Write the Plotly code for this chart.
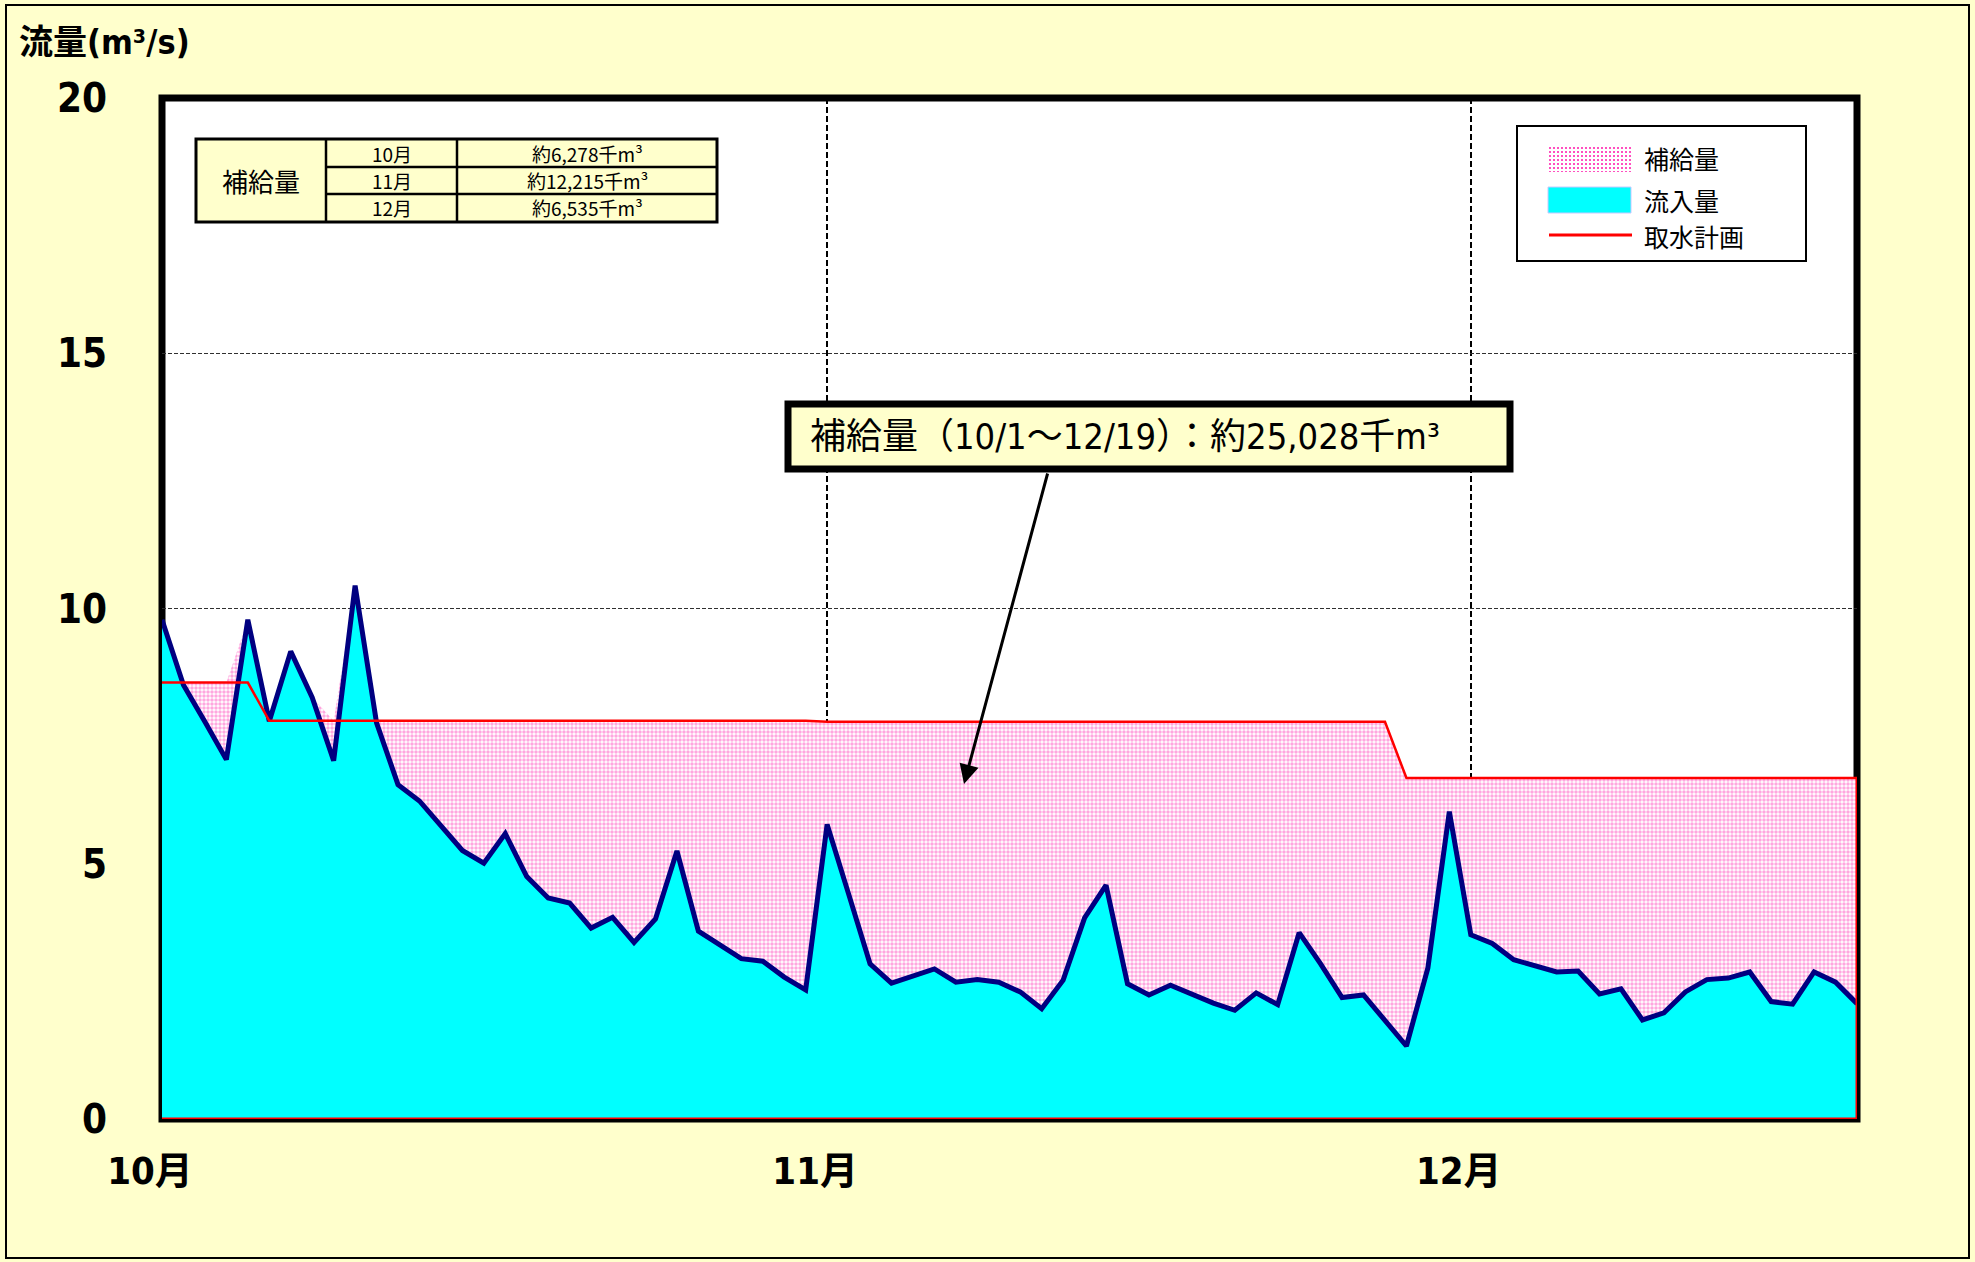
import base64
import pandas as pd
import plotly.graph_objects as go

# ---------------- data (m3/s, daily, 10/1 .. 12/19) ----------------
inflow = [9.78, 8.50, 7.78, 7.04, 9.78, 7.79, 9.16, 8.26, 7.02, 10.45,
          7.76, 6.55, 6.23, 5.74, 5.26, 5.01, 5.59, 4.75, 4.33, 4.23,
          3.74, 3.95, 3.46, 3.92, 5.25, 3.68, 3.40, 3.14, 3.09, 2.78,
          2.53, 5.77, 4.41, 3.04, 2.66, 2.81, 2.94, 2.68, 2.73, 2.68,
          2.49, 2.16, 2.72, 3.94, 4.58, 2.65, 2.43, 2.62, 2.44, 2.27,
          2.13, 2.47, 2.24, 3.65, 3.04, 2.38, 2.43, 1.93, 1.43, 2.96,
          6.02, 3.61, 3.44, 3.12, 3.01, 2.88, 2.90, 2.45, 2.55, 1.94,
          2.08, 2.49, 2.73, 2.76, 2.88, 2.30, 2.25, 2.88, 2.68, 2.26]

plan = [8.55, 8.55, 8.55, 8.55, 8.55, 7.80, 7.80, 7.80, 7.80, 7.80,
        7.80, 7.80, 7.80, 7.80, 7.80, 7.80, 7.80, 7.80, 7.80, 7.80,
        7.80, 7.80, 7.80, 7.80, 7.80, 7.80, 7.80, 7.80, 7.80, 7.80,
        7.80, 7.78, 7.78, 7.78, 7.78, 7.78, 7.78, 7.78, 7.78, 7.78,
        7.78, 7.78, 7.78, 7.78, 7.78, 7.78, 7.78, 7.78, 7.78, 7.78,
        7.78, 7.78, 7.78, 7.78, 7.78, 7.78, 7.78, 7.78, 6.68, 6.68,
        6.68, 6.68, 6.68, 6.68, 6.68, 6.68, 6.68, 6.68, 6.68, 6.68,
        6.68, 6.68, 6.68, 6.68, 6.68, 6.68, 6.68, 6.68, 6.68, 6.68]

start_date = "2023-10-01"
month_ticks = ["2023-10-01", "2023-11-01", "2023-12-01"]
month_labels = ["10月", "11月", "12月"]
y_ticks = [0, 5, 10, 15, 20]

series_names = ["補給量", "流入量", "取水計画"]
table_header = "補給量"
table_months = ["10月", "11月", "12月"]
table_values = ["約6,278千m³", "約12,215千m³", "約6,535千m³"]
total_text = "補給量（10/1～12/19）：約25,028千m³"
y_title = "流量(m³/s)"

# ---------------- derived ----------------
dates = pd.date_range(start_date, periods=len(inflow))
supply_top = [max(p, q) for p, q in zip(plan, inflow)]

# ---------------- geometry helpers (pixels -> paper) ----------------
W, H = 1975, 1262
L, R, T, B = 162, 1857, 98, 1119


def fx(x):
    return (x - L) / (R - L)


def fy(y):
    return (B - y) / (B - T)


NARROW = "Liberation Sans Narrow, Arial Narrow, DejaVu Sans Condensed, Noto Sans CJK JP, sans-serif"
CJK = "Noto Sans CJK JP, sans-serif"
PINK = "#FF4FC0"
CYAN = "#00FFFF"
NAVY = "#000080"
RED = "#FF0000"
PAPER = "#FFFFCC"

fig = go.Figure()

fig.add_trace(go.Scatter(
    x=dates, y=supply_top, name=series_names[0], mode="lines",
    line=dict(width=0, color=PINK), fill="tozeroy",
    fillpattern=dict(shape=".", fgcolor=PINK, bgcolor="white", size=4, solidity=0.6),
    showlegend=False, hoverinfo="skip"))

fig.add_trace(go.Scatter(
    x=dates, y=inflow, name=series_names[1], mode="lines",
    line=dict(width=5, color=NAVY), fill="tozeroy", fillcolor=CYAN,
    showlegend=False))

fig.add_trace(go.Scatter(
    x=dates, y=plan, name=series_names[2], mode="lines",
    line=dict(width=2.5, color=RED), showlegend=False))

shapes = []
# outer chart border
shapes.append(dict(type="rect", xref="paper", yref="paper", layer="below",
                   x0=fx(6), x1=fx(1969), y0=fy(1258), y1=fy(5),
                   line=dict(color="black", width=2)))
# plot frame
shapes.append(dict(type="rect", xref="paper", yref="paper", layer="below",
                   x0=0, x1=1, y0=0, y1=1,
                   line=dict(color="black", width=7)))
# baseline of the areas and right edge of supply area
shapes.append(dict(type="line", xref="x", yref="y", x0=dates[0], x1=dates[-1], y0=0, y1=0,
                   line=dict(color=RED, width=3)))
shapes.append(dict(type="line", xref="x", yref="y", x0=dates[-1], x1=dates[-1], y0=0, y1=plan[-1],
                   line=dict(color=RED, width=3)))

# table (top-left)
tx0, tx1, tx2, tx3 = 196, 326, 457, 717
ty = [139, 167, 194, 222]
shapes.append(dict(type="rect", xref="paper", yref="paper",
                   x0=fx(tx0), x1=fx(tx3), y0=fy(ty[3]), y1=fy(ty[0]),
                   fillcolor=PAPER, line=dict(color="black", width=3)))
for xv in (tx1, tx2):
    shapes.append(dict(type="line", xref="paper", yref="paper",
                       x0=fx(xv), x1=fx(xv), y0=fy(ty[3]), y1=fy(ty[0]),
                       line=dict(color="black", width=2.5)))
for yv in (ty[1], ty[2]):
    shapes.append(dict(type="line", xref="paper", yref="paper",
                       x0=fx(tx1), x1=fx(tx3), y0=fy(yv), y1=fy(yv),
                       line=dict(color="black", width=2.5)))

# total box
shapes.append(dict(type="rect", xref="paper", yref="paper",
                   x0=fx(788), x1=fx(1510), y0=fy(469), y1=fy(404),
                   fillcolor=PAPER, line=dict(color="black", width=7)))

# legend box (transparent so the pattern swatch image shows)
shapes.append(dict(type="rect", xref="paper", yref="paper",
                   x0=fx(1517), x1=fx(1806), y0=fy(261), y1=fy(126),
                   fillcolor="rgba(0,0,0,0)", line=dict(color="black", width=2)))
shapes.append(dict(type="rect", xref="paper", yref="paper",
                   x0=fx(1548), x1=fx(1631), y0=fy(213), y1=fy(187),
                   fillcolor=CYAN, line=dict(color="#C8C8FF", width=1)))
shapes.append(dict(type="line", xref="paper", yref="paper",
                   x0=fx(1549), x1=fx(1632), y0=fy(235), y1=fy(235),
                   line=dict(color=RED, width=3)))

svg = ("<svg xmlns='http://www.w3.org/2000/svg' width='83' height='26'>"
       "<defs><pattern id='p' width='4' height='4' patternUnits='userSpaceOnUse'>"
       "<rect width='4' height='4' fill='white'/>"
       "<rect x='1' y='1' width='2' height='2' fill='%s'/></pattern></defs>"
       "<rect width='83' height='26' fill='url(#p)'/></svg>") % PINK
svg_uri = "data:image/svg+xml;base64," + base64.b64encode(svg.encode()).decode()

images = [dict(source=svg_uri, xref="paper", yref="paper",
               x=fx(1548), y=fy(146), sizex=83 / (R - L), sizey=26 / (B - T),
               xanchor="left", yanchor="top", sizing="stretch", layer="above")]

annotations = []
annotations.append(dict(xref="paper", yref="paper", x=fx(17), y=fy(42),
                        xanchor="left", yanchor="middle", showarrow=False,
                        text="<b>" + y_title + "</b>",
                        font=dict(family=NARROW, size=34, color="black")))
# table texts
annotations.append(dict(xref="paper", yref="paper", x=fx((tx0 + tx1) / 2), y=fy((ty[0] + ty[3]) / 2),
                        xanchor="center", yanchor="middle",
                        showarrow=False, text=table_header,
                        font=dict(family=CJK, size=26, color="black")))
for i in range(3):
    yc = (ty[i] + ty[i + 1]) / 2
    annotations.append(dict(xref="paper", yref="paper", x=fx((tx1 + tx2) / 2), y=fy(yc),
                            xanchor="center", yanchor="middle", borderpad=0,
                            showarrow=False, text=table_months[i],
                            font=dict(family=CJK, size=19, color="black")))
    annotations.append(dict(xref="paper", yref="paper", x=fx((tx2 + tx3) / 2), y=fy(yc),
                            xanchor="center", yanchor="middle", borderpad=0,
                            showarrow=False, text=table_values[i],
                            font=dict(family=CJK, size=19, color="black")))
# total box text
annotations.append(dict(xref="paper", yref="paper", x=fx(808), y=fy(437),
                        xanchor="left", yanchor="middle", showarrow=False,
                        text=total_text,
                        font=dict(family=NARROW, size=36, color="black")))
# arrow
annotations.append(dict(xref="paper", yref="paper", x=fx(964), y=fy(784),
                        text="", showarrow=True, ax=84, ay=-312,
                        arrowhead=2, arrowsize=1.3, arrowwidth=3, arrowcolor="black"))
# legend texts
for name, yc in zip(series_names, (158, 200, 236)):
    annotations.append(dict(xref="paper", yref="paper", x=fx(1642), y=fy(yc),
                            xanchor="left", yanchor="middle", showarrow=False,
                            text=name, font=dict(family=CJK, size=25, color="black")))

fig.update_layout(
    width=W, height=H,
    margin=dict(l=L, r=W - R, t=T, b=H - B, pad=0),
    paper_bgcolor=PAPER, plot_bgcolor="white",
    showlegend=False,
    shapes=shapes, annotations=annotations, images=images,
    xaxis=dict(range=[dates[0], dates[-1]], tickvals=month_ticks, ticktext=month_labels,
               showgrid=True, gridcolor="black", gridwidth=2, griddash="6px,3px",
               zeroline=False, showline=False, ticks="",
               ticklabelstandoff=26, ticklabelshift=-12,
               tickfont=dict(family=NARROW, size=38, color="black", weight="bold")),
    yaxis=dict(range=[0, 20], tickvals=y_ticks,
               showgrid=True, gridcolor="#303030", gridwidth=1, griddash="4px,2px",
               zeroline=False, showline=False, ticks="",
               ticklabelstandoff=54,
               tickfont=dict(family=NARROW, size=40, color="black", weight="bold")),
)

fig.write_html("out.html", config={"displayModeBar": False},
               post_script="document.body.style.margin='0';document.body.style.overflow='hidden';")
